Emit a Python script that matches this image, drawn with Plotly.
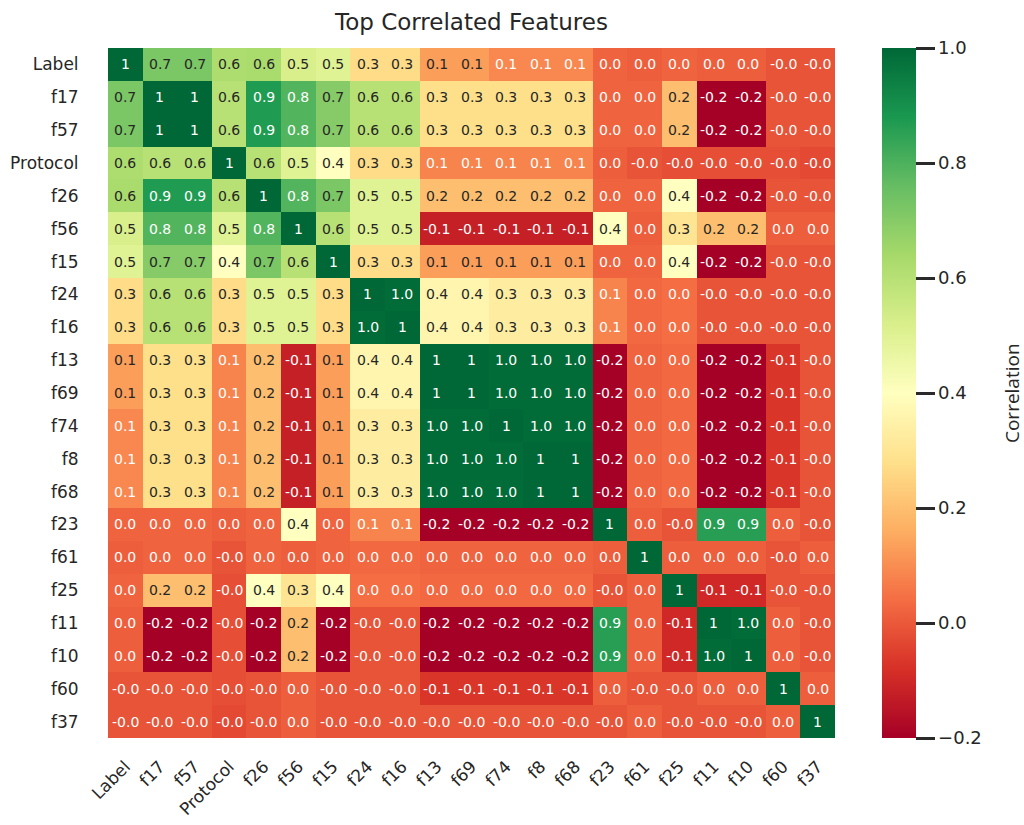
import plotly.graph_objects as go

# Feature order (rows and columns)
features = ["Label", "f17", "f57", "Protocol", "f26", "f56", "f15", "f24", "f16",
            "f13", "f69", "f74", "f8", "f68", "f23", "f61", "f25", "f11", "f10",
            "f60", "f37"]

# Correlation matrix, one row per feature
row_label    = [1, 0.72, 0.72, 0.62, 0.63, 0.52, 0.50, 0.27, 0.27, 0.13, 0.13, 0.09, 0.09, 0.09, 0.02, 0.01, 0.02, 0.01, 0.01, -0.01, -0.01]
row_f17      = [0.72, 1, 1, 0.60, 0.87, 0.79, 0.70, 0.60, 0.60, 0.28, 0.28, 0.28, 0.28, 0.28, 0.02, 0.02, 0.20, -0.20, -0.20, -0.01, -0.01]
row_f57      = [0.72, 1, 1, 0.60, 0.87, 0.79, 0.70, 0.60, 0.60, 0.28, 0.28, 0.28, 0.28, 0.28, 0.02, 0.02, 0.20, -0.20, -0.20, -0.01, -0.01]
row_protocol = [0.62, 0.60, 0.60, 1, 0.60, 0.50, 0.40, 0.27, 0.27, 0.08, 0.08, 0.08, 0.08, 0.08, 0.01, -0.01, -0.02, -0.02, -0.02, -0.02, -0.03]
row_f26      = [0.63, 0.87, 0.87, 0.60, 1, 0.79, 0.72, 0.50, 0.50, 0.20, 0.20, 0.20, 0.20, 0.20, 0.02, 0.02, 0.40, -0.20, -0.20, -0.01, -0.01]
row_f56      = [0.52, 0.79, 0.79, 0.50, 0.79, 1, 0.60, 0.50, 0.50, -0.12, -0.12, -0.12, -0.12, -0.12, 0.40, 0.01, 0.30, 0.20, 0.20, 0.01, 0.01]
row_f15      = [0.50, 0.70, 0.70, 0.40, 0.72, 0.60, 1, 0.27, 0.27, 0.13, 0.13, 0.13, 0.13, 0.13, 0.02, 0.02, 0.40, -0.20, -0.20, -0.01, -0.01]
row_f24      = [0.27, 0.60, 0.60, 0.27, 0.50, 0.50, 0.27, 1, 0.99, 0.36, 0.36, 0.33, 0.33, 0.33, 0.08, 0.03, 0.04, -0.01, -0.01, -0.01, -0.01]
row_f16      = [0.27, 0.60, 0.60, 0.27, 0.50, 0.50, 0.27, 0.99, 1, 0.36, 0.36, 0.33, 0.33, 0.33, 0.08, 0.03, 0.04, -0.01, -0.01, -0.01, -0.01]
row_f13      = [0.13, 0.28, 0.28, 0.08, 0.20, -0.12, 0.13, 0.36, 0.36, 1, 1, 0.99, 0.99, 0.99, -0.20, 0.02, 0.03, -0.20, -0.20, -0.07, -0.01]
row_f69      = [0.13, 0.28, 0.28, 0.08, 0.20, -0.12, 0.13, 0.36, 0.36, 1, 1, 0.99, 0.99, 0.99, -0.20, 0.02, 0.03, -0.20, -0.20, -0.07, -0.01]
row_f74      = [0.09, 0.28, 0.28, 0.08, 0.20, -0.12, 0.13, 0.33, 0.33, 0.99, 0.99, 1, 0.99, 0.99, -0.20, 0.02, 0.03, -0.20, -0.20, -0.07, -0.01]
row_f8       = [0.09, 0.28, 0.28, 0.08, 0.20, -0.12, 0.13, 0.33, 0.33, 0.99, 0.99, 0.99, 1, 1, -0.20, 0.02, 0.03, -0.20, -0.20, -0.07, -0.01]
row_f68      = [0.09, 0.28, 0.28, 0.08, 0.20, -0.12, 0.13, 0.33, 0.33, 0.99, 0.99, 0.99, 1, 1, -0.20, 0.02, 0.03, -0.20, -0.20, -0.07, -0.01]
row_f23      = [0.02, 0.02, 0.02, 0.01, 0.02, 0.40, 0.02, 0.08, 0.08, -0.20, -0.20, -0.20, -0.20, -0.20, 1, 0.01, -0.01, 0.86, 0.86, 0.01, -0.01]
row_f61      = [0.01, 0.02, 0.02, -0.01, 0.02, 0.01, 0.02, 0.03, 0.03, 0.02, 0.02, 0.02, 0.02, 0.02, 0.01, 1, 0.01, 0.01, 0.01, -0.01, 0.01]
row_f25      = [0.02, 0.20, 0.20, -0.02, 0.40, 0.30, 0.40, 0.04, 0.04, 0.03, 0.03, 0.03, 0.03, 0.03, -0.01, 0.01, 1, -0.10, -0.10, -0.01, -0.01]
row_f11      = [0.01, -0.20, -0.20, -0.02, -0.20, 0.20, -0.20, -0.01, -0.01, -0.20, -0.20, -0.20, -0.20, -0.20, 0.86, 0.01, -0.10, 1, 0.99, 0.01, -0.01]
row_f10      = [0.01, -0.20, -0.20, -0.02, -0.20, 0.20, -0.20, -0.01, -0.01, -0.20, -0.20, -0.20, -0.20, -0.20, 0.86, 0.01, -0.10, 0.99, 1, 0.01, -0.01]
row_f60      = [-0.01, -0.01, -0.01, -0.02, -0.01, 0.01, -0.01, -0.01, -0.01, -0.07, -0.07, -0.07, -0.07, -0.07, 0.01, -0.01, -0.01, 0.01, 0.01, 1, 0.01]
row_f37      = [-0.01, -0.01, -0.01, -0.03, -0.01, 0.01, -0.01, -0.01, -0.01, -0.01, -0.01, -0.01, -0.01, -0.01, -0.01, 0.01, -0.01, -0.01, -0.01, 0.01, 1]

corr = [row_label, row_f17, row_f57, row_protocol, row_f26, row_f56, row_f15,
        row_f24, row_f16, row_f13, row_f69, row_f74, row_f8, row_f68, row_f23,
        row_f61, row_f25, row_f11, row_f10, row_f60, row_f37]

zmin, zmax = -0.2, 1.0

# RdYlGn diverging palette
rdylgn = [(165, 0, 38), (215, 48, 39), (244, 109, 67), (253, 174, 97),
          (254, 224, 139), (255, 255, 191), (217, 239, 139), (166, 217, 106),
          (102, 189, 99), (26, 152, 80), (0, 104, 55)]
n = len(rdylgn) - 1
colorscale = [[i / n, "rgb(%d,%d,%d)" % c] for i, c in enumerate(rdylgn)]


def cell_rgb(v):
    f = min(max((v - zmin) / (zmax - zmin), 0.0), 1.0) * n
    i = min(int(f), n - 1)
    t = f - i
    a, b = rdylgn[i], rdylgn[i + 1]
    return [(a[k] + (b[k] - a[k]) * t) / 255.0 for k in range(3)]


def luminance(rgb):
    lin = [c / 12.92 if c <= 0.03928 else ((c + 0.055) / 1.055) ** 2.4 for c in rgb]
    return 0.2126 * lin[0] + 0.7152 * lin[1] + 0.0722 * lin[2]


def cell_text(v):
    return "1" if v == 1 else f"{v:.1f}"


TEXT = "#262626"

fig = go.Figure(go.Heatmap(
    z=corr, x=features, y=features,
    zmin=zmin, zmax=zmax, colorscale=colorscale,
    xgap=0, ygap=0,
    colorbar=dict(
        x=1.0646, xanchor="left", xpad=0, y=0.5, yanchor="middle", ypad=0,
        len=1.0, lenmode="fraction", thickness=34,
        outlinewidth=0,
        tickvals=[-0.2, 0.0, 0.2, 0.4, 0.6, 0.8, 1.0], tickformat=".1f",
        ticks="outside", ticklen=19, tickwidth=3, tickcolor="#2a2a2a",
        tickfont=dict(family="DejaVu Sans", size=18, color=TEXT),
    ),
))

annotations = []
for r, name_r in enumerate(features):
    for c, name_c in enumerate(features):
        v = corr[r][c]
        color = "white" if luminance(cell_rgb(v)) <= 0.408 else TEXT
        annotations.append(dict(
            x=name_c, y=name_r, xref="x", yref="y", text=cell_text(v),
            showarrow=False, font=dict(family="DejaVu Sans", size=14, color=color),
        ))

# Colorbar label
annotations.append(dict(
    text="Correlation", x=1.2435, y=0.5, xref="paper", yref="paper",
    xanchor="center", yanchor="middle", textangle=-90, showarrow=False,
    font=dict(family="Open Sans", size=19, color=TEXT),
))

fig.update_layout(
    width=1024, height=825,
    margin=dict(l=108, r=189, t=48, b=87, autoexpand=False),
    paper_bgcolor="white", plot_bgcolor="white",
    title=dict(text="Top Correlated Features", x=0.5, xref="paper",
               y=1 - 22 / 825, yanchor="middle",
               font=dict(family="DejaVu Sans", size=23, color=TEXT)),
    annotations=annotations,
    xaxis=dict(tickangle=-45, showgrid=False, zeroline=False, automargin=False,
               ticks="outside", ticklen=11, tickcolor="rgba(0,0,0,0)",
               tickfont=dict(family="DejaVu Sans", size=17, color=TEXT)),
    yaxis=dict(autorange="reversed", showgrid=False, zeroline=False, automargin=False,
               ticks="outside", ticklen=25, tickcolor="rgba(0,0,0,0)",
               tickfont=dict(family="DejaVu Sans", size=17, color=TEXT)),
)

fig.write_html("out.html")
